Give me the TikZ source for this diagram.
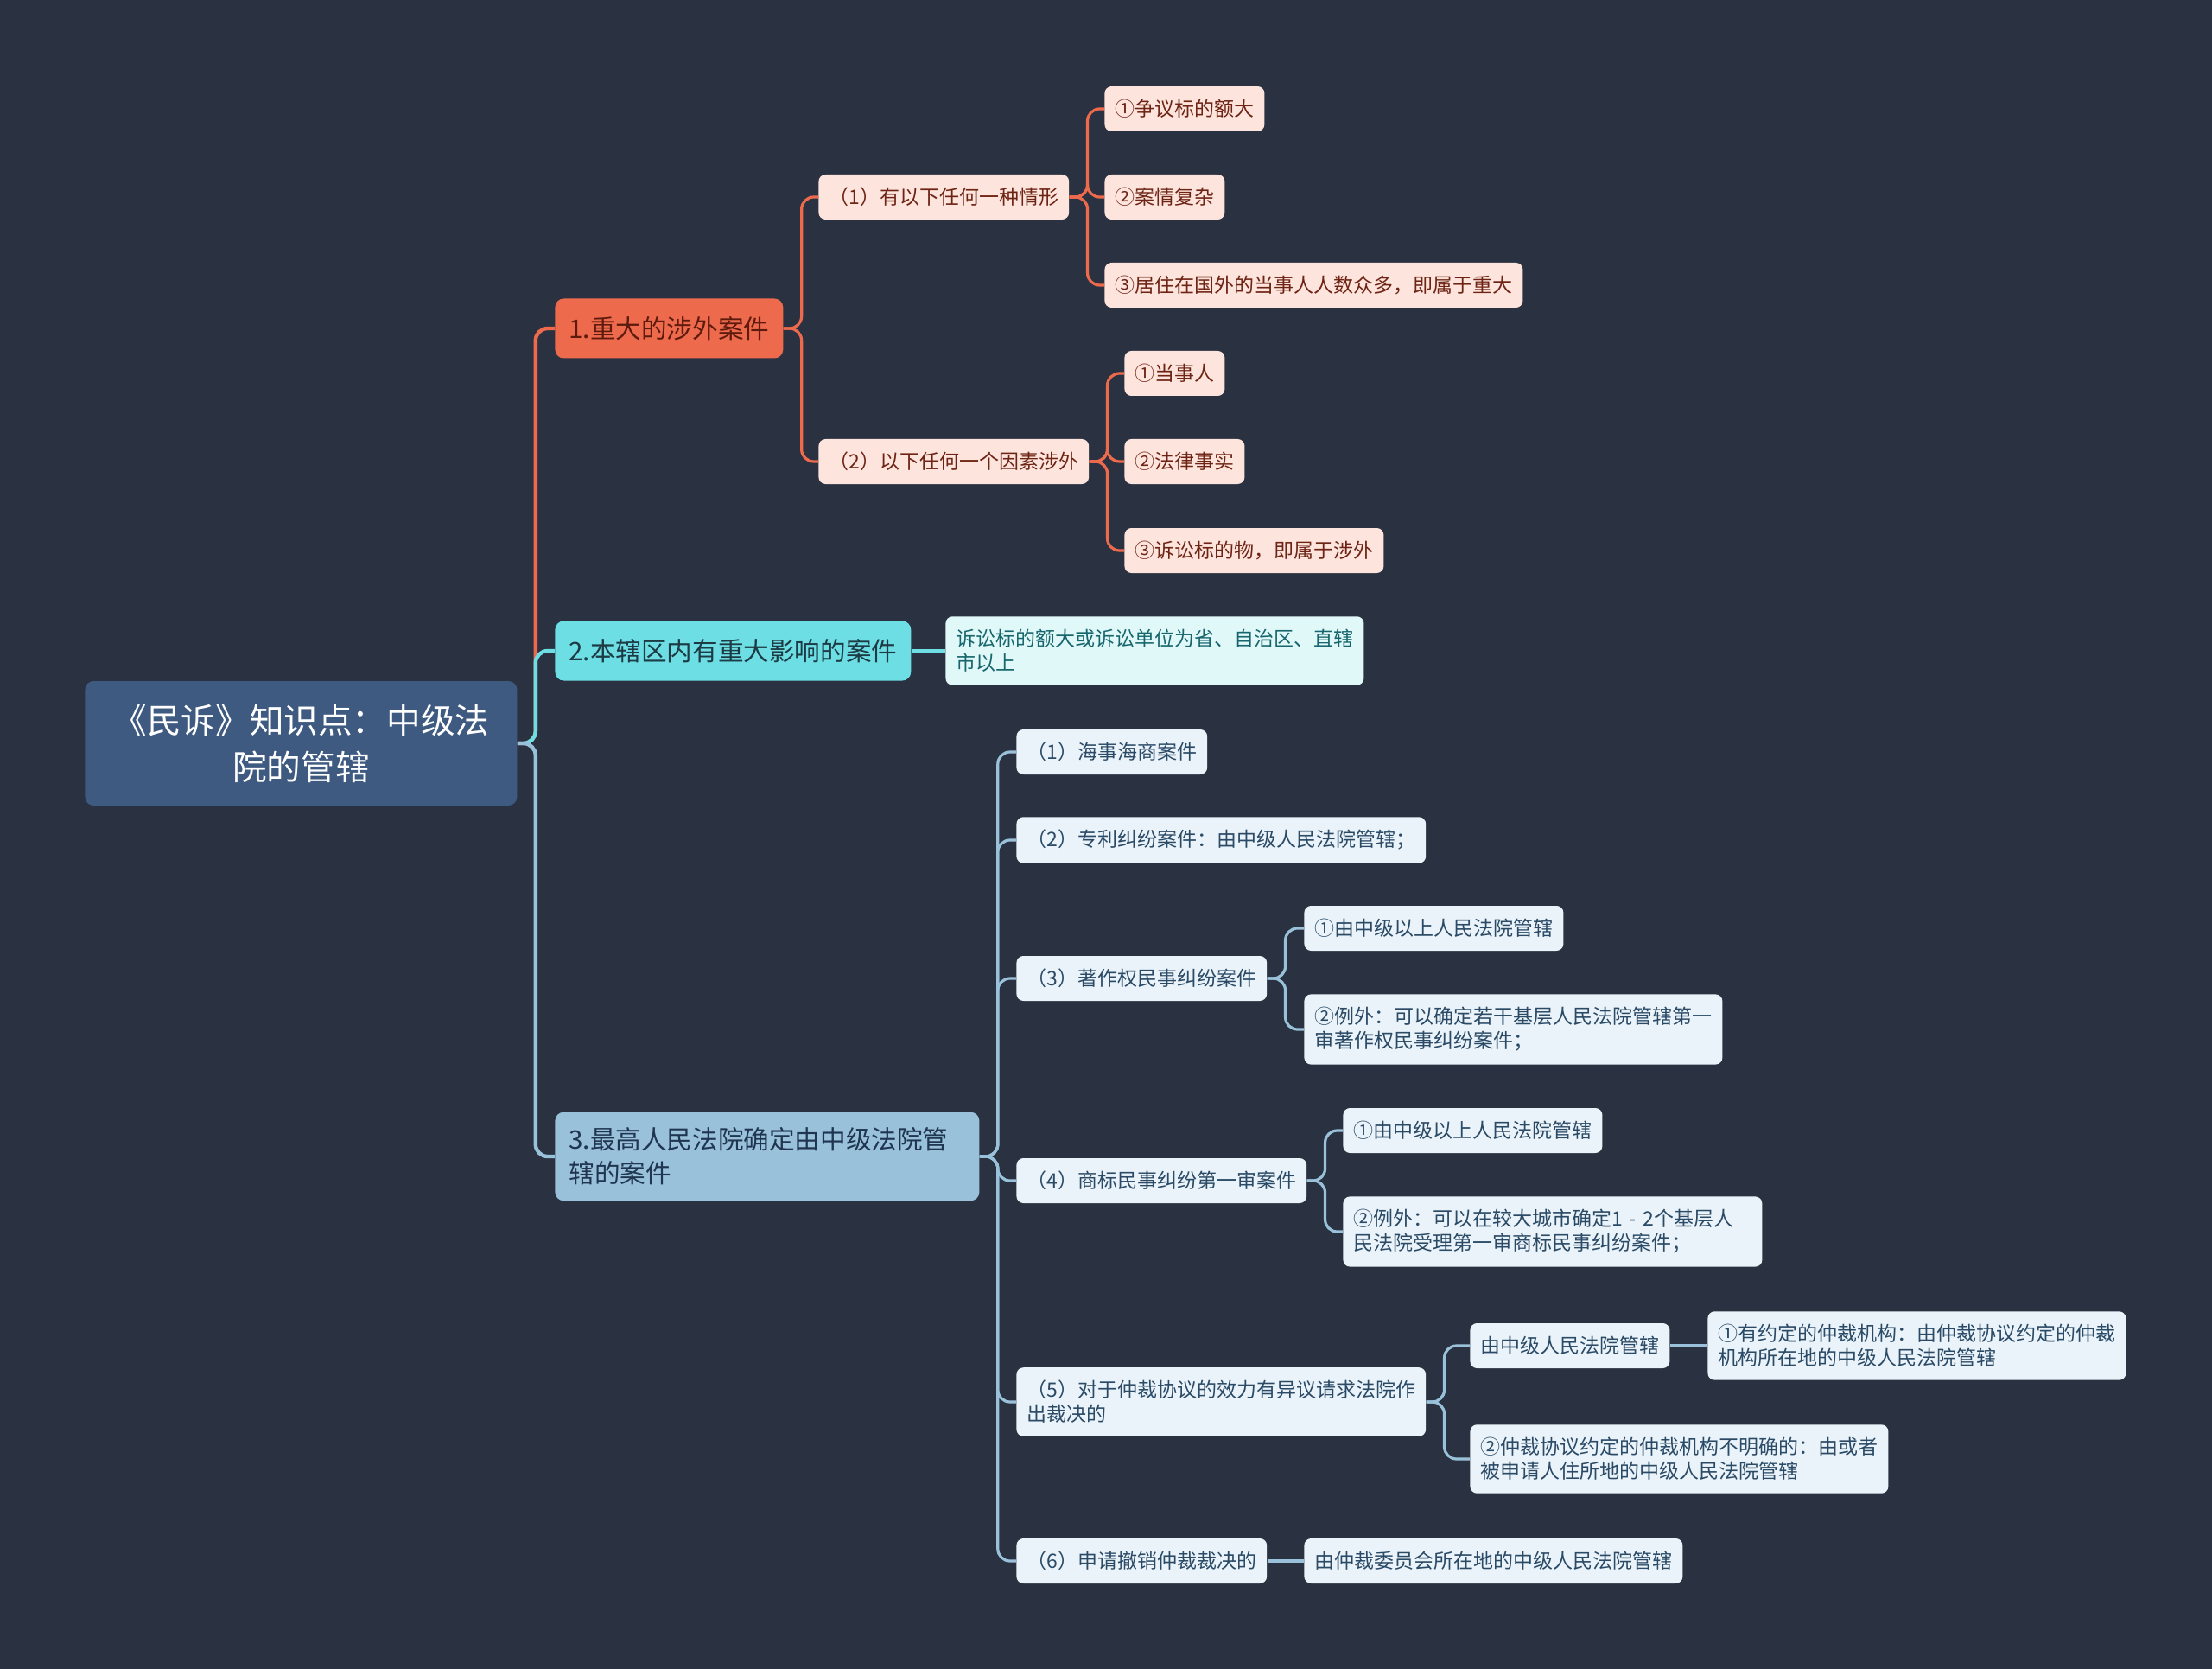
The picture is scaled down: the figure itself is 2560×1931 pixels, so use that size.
\documentclass[tikz,border=0pt]{standalone}
\usepackage{fontspec}
\setmainfont{Noto Sans CJK SC}
\definecolor{bgdark}{HTML}{2A3241}
\definecolor{rootfill}{HTML}{3E5A80}
\definecolor{redfill}{HTML}{EE6A4D}
\definecolor{redtext}{HTML}{5E1A0C}
\definecolor{redleaf}{HTML}{FDE4DC}
\definecolor{redleaftext}{HTML}{6E2415}
\definecolor{cyanfill}{HTML}{6DDEE4}
\definecolor{cyantext}{HTML}{1C3B44}
\definecolor{cyanleaf}{HTML}{E0F8F8}
\definecolor{cyanleaftext}{HTML}{17666E}
\definecolor{bluefill}{HTML}{9AC1DA}
\definecolor{bluetext}{HTML}{1F3550}
\definecolor{blueleaf}{HTML}{EAF3F9}
\definecolor{blueleaftext}{HTML}{2A4A66}
\begin{document}
\begin{tikzpicture}[x=0.5pt, y=-0.5pt,
    leafbox/.style={anchor=west, rounded corners=4pt, inner xsep=6pt, inner ysep=7.5pt,
        minimum height=26pt, align=left, font=\fontsize{11.5pt}{14pt}\selectfont},
    mainbox/.style={anchor=west, rounded corners=5pt, inner xsep=8pt, inner ysep=9pt,
        minimum height=34.5pt, align=left, font=\fontsize{14.8pt}{19.5pt}\selectfont},
    redleafbox/.style={leafbox, fill=redleaf, text=redleaftext},
    cyanleafbox/.style={leafbox, fill=cyanleaf, text=cyanleaftext},
    blueleafbox/.style={leafbox, fill=blueleaf, text=blueleaftext},
    link/.style={line width=1.6pt, rounded corners=7pt},
    rootlink/.style={line width=2.2pt, rounded corners=7pt}]
    \fill[bgdark] (0,0) rectangle (2560,1931);
    \useasboundingbox (0,0) rectangle (2560,1931);
    % root
    \node[anchor=west, fill=rootfill, text=white, rounded corners=5pt, minimum width=250pt,
        minimum height=72pt, align=center, font=\fontsize{19.8pt}{27pt}\selectfont]
        (root) at (98,860) {《民诉》知识点：中级法\\院的管辖};
    % main branches
    \node[mainbox, fill=redfill, text=redtext] (b1) at (642,380) {1.重大的涉外案件};
    \node[mainbox, fill=cyanfill, text=cyantext] (b2) at (642,753) {2.本辖区内有重大影响的案件};
    \node[mainbox, fill=bluefill, text=bluetext, text width=229.5pt] (b3) at (642,1338)
        {3.最高人民法院确定由中级法院管\\辖的案件};
    % branch 1
    \node[redleafbox] (b1-1) at (947,228) {（1）有以下任何一种情形};
    \node[redleafbox] (b1-2) at (947,534) {（2）以下任何一个因素涉外};
    \node[redleafbox] (b1-1-1) at (1278,126) {①争议标的额大};
    \node[redleafbox] (b1-1-2) at (1278,228) {②案情复杂};
    \node[redleafbox] (b1-1-3) at (1278,330) {③居住在国外的当事人人数众多，即属于重大};
    \node[redleafbox] (b1-2-1) at (1301,432) {①当事人};
    \node[redleafbox] (b1-2-2) at (1301,534) {②法律事实};
    \node[redleafbox] (b1-2-3) at (1301,637) {③诉讼标的物，即属于涉外};
    % branch 2
    \node[cyanleafbox] (b2-1) at (1094,753) {诉讼标的额大或诉讼单位为省、自治区、直辖\\市以上};
    % branch 3
    \node[blueleafbox] (b3-1) at (1176,870) {（1）海事海商案件};
    \node[blueleafbox] (b3-2) at (1176,972) {（2）专利纠纷案件：由中级人民法院管辖；};
    \node[blueleafbox] (b3-3) at (1176,1132) {（3）著作权民事纠纷案件};
    \node[blueleafbox] (b3-3-1) at (1509,1074) {①由中级以上人民法院管辖};
    \node[blueleafbox] (b3-3-2) at (1509,1191)
        {②例外：可以确定若干基层人民法院管辖第一\\审著作权民事纠纷案件；};
    \node[blueleafbox] (b3-4) at (1176,1366) {（4）商标民事纠纷第一审案件};
    \node[blueleafbox] (b3-4-1) at (1554,1308) {①由中级以上人民法院管辖};
    \node[blueleafbox, text width=230.5pt] (b3-4-2) at (1554,1425)
        {②例外：可以在较大城市确定1 - 2个基层人\\民法院受理第一审商标民事纠纷案件；};
    \node[blueleafbox] (b3-5) at (1176,1622) {（5）对于仲裁协议的效力有异议请求法院作\\出裁决的};
    \node[blueleafbox] (b3-5-1) at (1701,1557) {由中级人民法院管辖};
    \node[blueleafbox] (b3-5-1-1) at (1976,1557)
        {①有约定的仲裁机构：由仲裁协议约定的仲裁\\机构所在地的中级人民法院管辖};
    \node[blueleafbox] (b3-5-2) at (1701,1688)
        {②仲裁协议约定的仲裁机构不明确的：由或者\\被申请人住所地的中级人民法院管辖};
    \node[blueleafbox] (b3-6) at (1176,1806) {（6）申请撤销仲裁裁决的};
    \node[blueleafbox] (b3-6-1) at (1509,1806) {由仲裁委员会所在地的中级人民法院管辖};
    % connectors
    \draw[rootlink, redfill] (root.east) -- ++(21,0) |- (b1.west);
    \draw[rootlink, cyanfill] (root.east) -- ++(21,0) |- (b2.west);
    \draw[rootlink, bluefill] (root.east) -- ++(21,0) |- (b3.west);
    \foreach \child in {b1-1,b1-2}
        \draw[link, redfill] (b1.east) -- ++(21,0) |- (\child.west);
    \foreach \child in {b1-1-1,b1-1-2,b1-1-3}
        \draw[link, redfill] (b1-1.east) -- ++(21,0) |- (\child.west);
    \foreach \child in {b1-2-1,b1-2-2,b1-2-3}
        \draw[link, redfill] (b1-2.east) -- ++(21,0) |- (\child.west);
    \draw[link, cyanfill] (b2.east) -- (b2-1.west);
    \foreach \child in {b3-1,b3-2,b3-3,b3-4,b3-5,b3-6}
        \draw[link, bluefill] (b3.east) -- ++(21,0) |- (\child.west);
    \foreach \parent/\child in {b3-3/b3-3-1,b3-3/b3-3-2,b3-4/b3-4-1,b3-4/b3-4-2,b3-5/b3-5-1,b3-5/b3-5-2}
        \draw[link, bluefill] (\parent.east) -- ++(21,0) |- (\child.west);
    \draw[link, bluefill] (b3-5-1.east) -- (b3-5-1-1.west);
    \draw[link, bluefill] (b3-6.east) -- (b3-6-1.west);
\end{tikzpicture}
\end{document}
